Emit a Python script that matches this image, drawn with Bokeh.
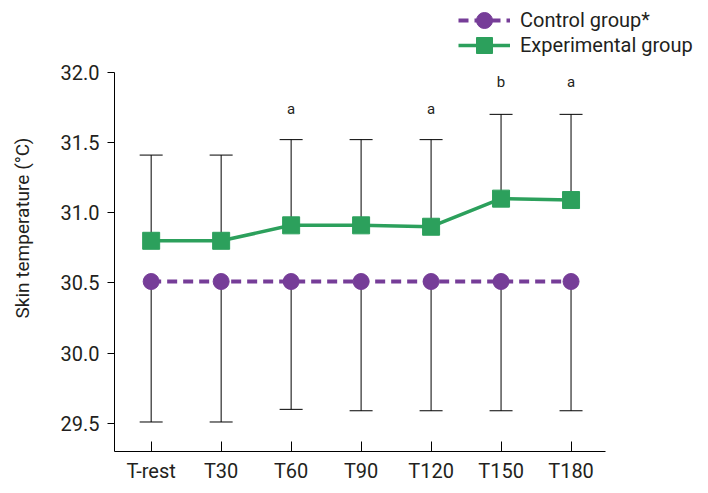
from bokeh.plotting import figure
from bokeh.models import Legend, LegendItem, FixedTicker, Range1d, CustomJSTickFormatter
from bokeh.core.properties import value
from bokeh.embed import file_html
from bokeh.resources import INLINE

categories = ["T-rest", "T30", "T60", "T90", "T120", "T150", "T180"]
control_mean = [30.51, 30.51, 30.51, 30.51, 30.51, 30.51, 30.51]
control_lower = [29.51, 29.51, 29.60, 29.59, 29.59, 29.59, 29.59]
exp_mean = [30.80, 30.80, 30.91, 30.91, 30.90, 31.10, 31.09]
exp_upper = [31.41, 31.41, 31.52, 31.52, 31.52, 31.70, 31.70]
sig_cats = ["T60", "T120", "T150", "T180"]
sig_labels = ["a", "a", "b", "a"]
sig_y = [31.74, 31.74, 31.93, 31.93]
y_ticks = [29.5, 30.0, 30.5, 31.0, 31.5, 32.0]

FONT = "Roboto"
PURPLE = "#763D98"
GREEN = "#2CA05C"
TXT = "#231F20"

xs = list(range(len(categories)))
pos = {c: i for i, c in enumerate(categories)}
sig_x = [pos[c] for c in sig_cats]

p = figure(width=700, height=485, x_range=Range1d(-0.524, 7.85),
           y_range=Range1d(29.30, 32.482), output_backend="svg",
           toolbar_location=None, min_border_left=114, min_border_right=0,
           min_border_top=4, min_border_bottom=32)
p.outline_line_color = None
p.grid.visible = False
p.background_fill_color = "white"

# error bars
p.segment(x0=xs, y0=control_mean, x1=xs, y1=control_lower,
          line_color="black", line_width=1)
p.scatter(x=xs, y=control_lower, marker="dash", size=23,
          line_color="black", line_width=1)
p.segment(x0=xs, y0=exp_mean, x1=xs, y1=exp_upper,
          line_color="black", line_width=1)
p.scatter(x=xs, y=exp_upper, marker="dash", size=23,
          line_color="black", line_width=1)

# series
cl = p.line(xs, control_mean, line_color=PURPLE, line_width=4, line_dash="10 6")
cs = p.scatter(xs, control_mean, marker="circle", size=16,
               fill_color=PURPLE, line_color=PURPLE)
el = p.line(xs, exp_mean, line_color=GREEN, line_width=3.5)
es = p.scatter(xs, exp_mean, marker="square", size=17,
               fill_color=GREEN, line_color=GREEN)

p.text(x=sig_x, y=sig_y, text=sig_labels, text_align="center",
       text_baseline="middle", text_font=value(FONT), text_font_size="15px",
       text_color=TXT)

# y axis
p.yaxis.ticker = FixedTicker(ticks=y_ticks)
p.yaxis.formatter = CustomJSTickFormatter(code="return tick.toFixed(1);")
p.yaxis.bounds = (29.30, 32.0)
p.yaxis.major_tick_out = 7
p.yaxis.major_tick_in = 0
p.yaxis.minor_tick_line_color = None
p.yaxis.axis_line_color = "black"
p.yaxis.major_tick_line_color = "black"
p.yaxis.major_label_text_font = FONT
p.yaxis.major_label_text_font_size = "20px"
p.yaxis.major_label_text_color = TXT
p.yaxis.major_label_standoff = 8
p.yaxis.axis_label = "Skin temperature (°C)"
p.yaxis.axis_label_text_font = FONT
p.yaxis.axis_label_text_font_size = "19px"
p.yaxis.axis_label_text_font_style = "normal"
p.yaxis.axis_label_text_color = TXT
p.yaxis.axis_label_standoff = 24

# x axis
p.xaxis.ticker = FixedTicker(ticks=xs)
p.xaxis.major_label_overrides = {i: c for i, c in enumerate(categories)}
p.xaxis.bounds = (-0.524, 6.49)
p.xaxis.minor_tick_line_color = None
p.xaxis.major_tick_out = 0
p.xaxis.major_tick_in = 10
p.xaxis.axis_line_color = "black"
p.xaxis.major_tick_line_color = "black"
p.xaxis.major_label_text_font = FONT
p.xaxis.major_label_text_font_size = "20px"
p.xaxis.major_label_text_color = TXT
p.xaxis.major_label_standoff = 7


def make_legend(label, renderers, loc):
    lg = Legend(items=[LegendItem(label=label, renderers=renderers)],
                location=loc, orientation="vertical")
    lg.border_line_color = None
    lg.background_fill_alpha = 0
    lg.padding = 0
    lg.margin = 0
    lg.spacing = 0
    lg.glyph_width = 52
    lg.glyph_height = 40
    lg.label_standoff = 10
    lg.label_text_font = FONT
    lg.label_text_font_size = "20px"
    lg.label_text_color = TXT
    lg.label_height = 20
    p.add_layout(lg, "center")


make_legend("Control group*", [cl, cs], (344, 411))
make_legend("Experimental group", [el, es], (344, 386))

open("out.html", "w").write(file_html(p, INLINE))
